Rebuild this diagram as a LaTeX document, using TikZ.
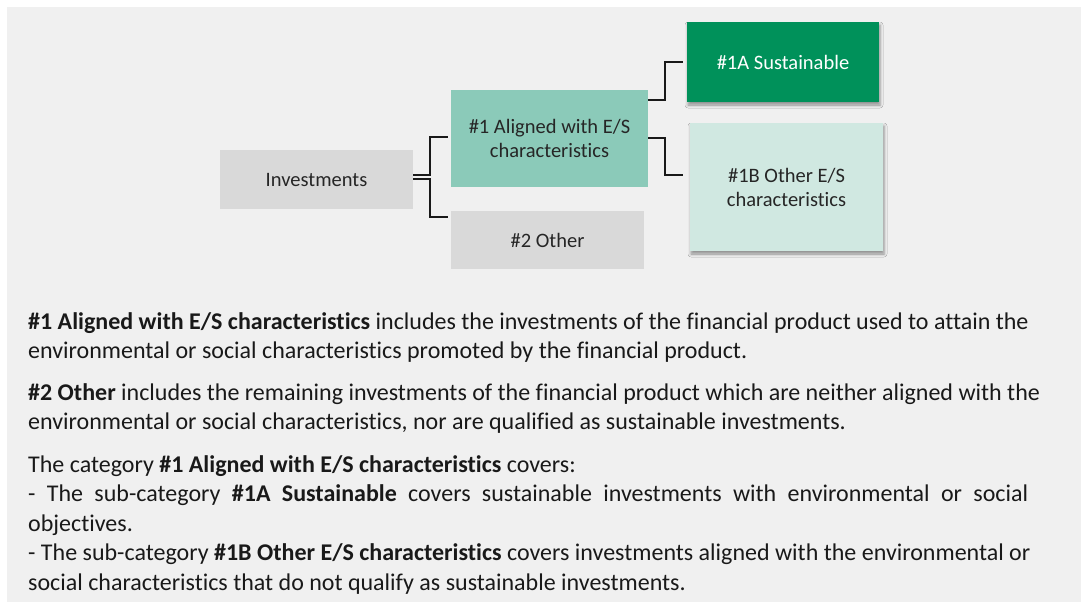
\documentclass[tikz,border=0pt]{standalone}
\usepackage{fontspec}
\setmainfont[Ligatures=NoCommon]{Carlito}
\usetikzlibrary{shadows.blur}

\definecolor{pagegrey}{HTML}{F0F0F0}
\definecolor{boxgrey}{HTML}{D9D9D9}
\definecolor{alignteal}{HTML}{8BCAB9}
\definecolor{susgreen}{HTML}{00915A}
\definecolor{othermint}{HTML}{D0E8E1}

\tikzset{
  box/.style={minimum width=193pt, inner sep=2pt, align=center,
    text=black!85, font=\fontsize{20.5}{24}\selectfont},
  lifted/.style={blur shadow={shadow xshift=1pt, shadow yshift=-3pt,
    shadow blur radius=3pt, shadow opacity=40}},
  link/.style={line width=1.8pt, black!90},
  para/.style={anchor=north west, inner sep=0pt, align=left,
    text=black!90, font=\fontsize{24}{29.5}\selectfont}
}

\begin{document}
\begin{tikzpicture}[x=1pt,y=-1pt]
        % page
        \useasboundingbox (0,0) rectangle (1081,602);
        \fill[white] (0,0) rectangle (1081,602);
        \fill[pagegrey] (7,7) rectangle (1081,602);
        % boxes
        \node[box, fill=boxgrey, minimum height=59pt] (inv) at (316.5,179.5) {Investments};
        \node[box, fill=alignteal, minimum width=197pt, minimum height=97pt] (aligned) at (549.5,138.5) {\#1 Aligned with E/S\\characteristics};
        \node[box, fill=boxgrey, minimum height=58pt] (other) at (547.5,240) {\#2 Other};
        \node[box, lifted, fill=susgreen, text=white, minimum width=192pt, minimum height=80pt] (sust) at (783,62) {\#1A Sustainable};
        \node[box, lifted, fill=othermint, minimum height=128pt] (otheres) at (786.5,187) {\#1B Other E/S\\characteristics};
        % links
        \draw[link] ([yshift=4.5pt]inv.east) -- ++(17,0) |- ([xshift=-3pt,yshift=1.5pt]aligned.west);
        \draw[link] ([yshift=0.5pt]inv.east) -- ++(17,0) |- ([shift={(-3pt,-6pt)}]other.north west);
        \draw[link] ([yshift=-10pt]aligned.north east) -- ++(17,0) |- ([xshift=-4pt]sust.west);
        \draw[link] ([yshift=0.5pt]aligned.east) -- ++(17,0) |- ([shift={(-7pt,12pt)}]otheres.west);
        % text
        \node[para] (p1) at (28,312) {\textbf{\#1 Aligned with E/S characteristics} includes the investments of the financial product used to attain the\\
          environmental or social characteristics promoted by the financial product.};
        \node[para] (p2) at (28,383) {\textbf{\#2 Other} includes the remaining investments of the financial product which are neither aligned with the\\
          environmental or social characteristics, nor are qualified as sustainable investments.};
        \node[para] (p3) at (28,455) {The category \textbf{\#1 Aligned with E/S characteristics} covers:\\
          \makebox[1000pt][s]{- The sub-category \textbf{\#1A Sustainable} covers sustainable investments with environmental or social}\\
          objectives.\\
          - The sub-category \textbf{\#1B Other E/S characteristics} covers investments aligned with the environmental or\\
          social characteristics that do not qualify as sustainable investments.};
      \end{tikzpicture}
\end{document}
